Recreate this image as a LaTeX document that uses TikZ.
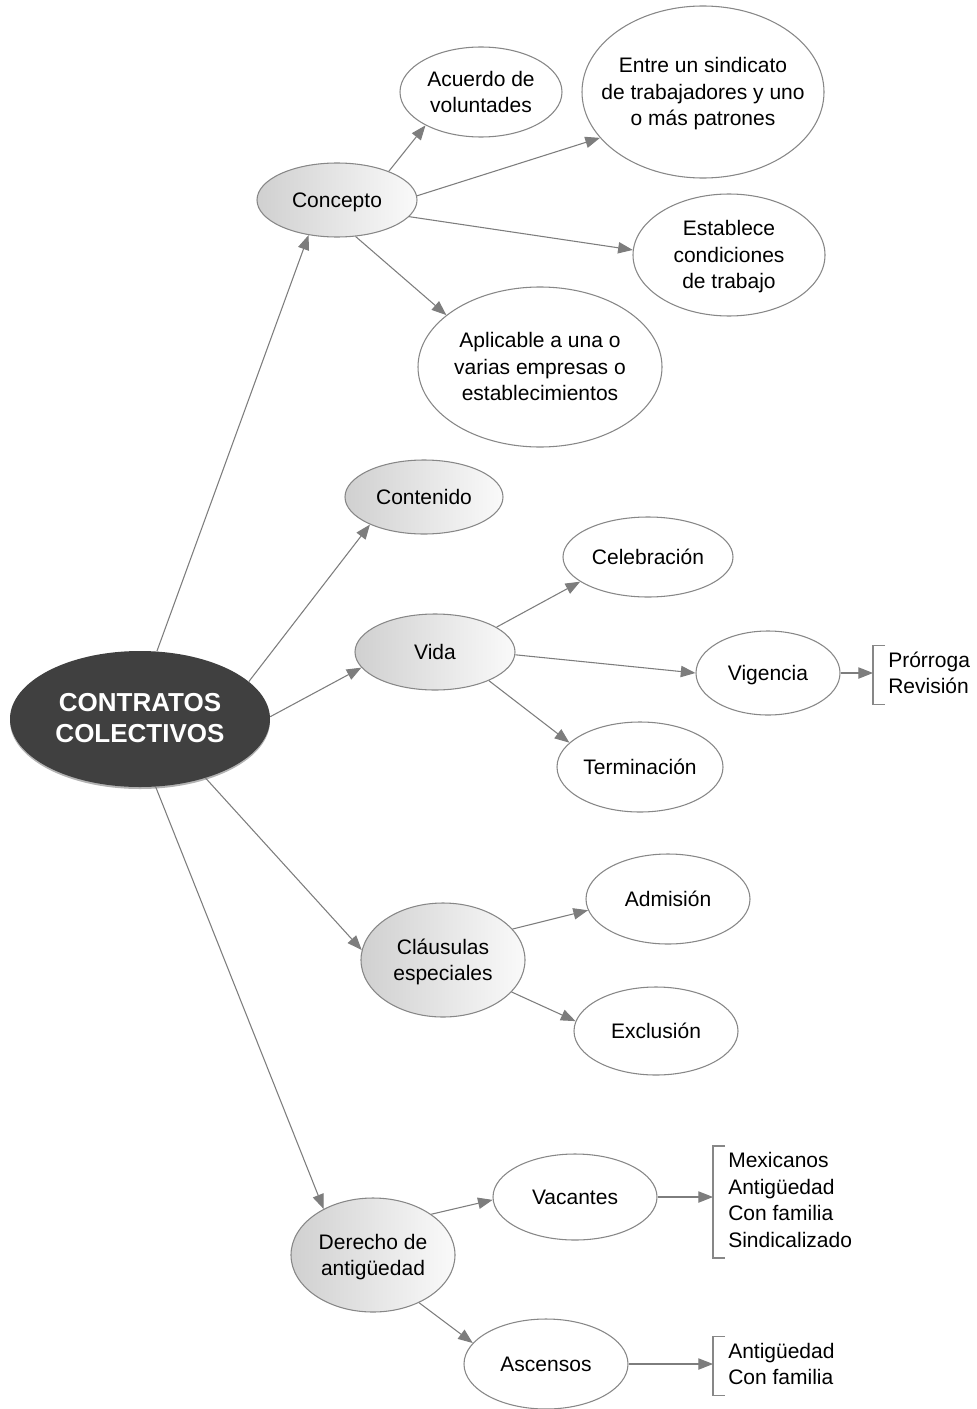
\documentclass[tikz,border=0pt]{standalone}
\usepackage{fontspec}
\setmainfont{Liberation Sans}
\usetikzlibrary{shapes.geometric,arrows.meta,shadows}
\definecolor{edgegray}{RGB}{125,125,125}
\definecolor{rimgray}{RGB}{135,135,135}
\definecolor{darkfill}{RGB}{64,64,64}
\definecolor{shadeL}{RGB}{208,208,208}
\definecolor{shadeR}{RGB}{250,250,250}
\newcommand\mytl[1]{\makebox[0pt]{\raisebox{-1.5pt}[\height][\depth]{\begin{tabular}{@{}c@{}}#1\end{tabular}}}}
\begin{document}
\begin{tikzpicture}[x=0.75pt,y=-0.75pt,
  base/.style={ellipse,inner sep=0pt,draw=rimgray,line width=0.8pt,
    font=\fontsize{15.75}{19.9}\selectfont},
  sz/.style 2 args={minimum width=#1*1.5pt,minimum height=#2*1.5pt},
  wnode/.style={base,fill=white},
  gnode/.style={base,left color=shadeL,right color=shadeR},
  cnode/.style={ellipse,inner sep=0pt,fill=darkfill,text=white,
    font=\fontsize{19.5}{23.25}\selectfont\bfseries,
    drop shadow={shadow xshift=0pt,shadow yshift=-1.5pt,opacity=0.3,fill=black}},
  arr/.style={draw=edgegray,line width=0.8pt,-{Triangle[length=11pt,width=8.5pt,fill=edgegray]}},
  lst/.style={anchor=west,inner xsep=11.25pt,inner ysep=2pt,
    font=\fontsize{15.75}{19.9}\selectfont},
  brk/.style={draw=rimgray,line width=0.8pt}]
\useasboundingbox (0,0) rectangle (977,1409);

\node[cnode,sz={130}{68}] (c) at (140,719) {\mytl{CONTRATOS\\COLECTIVOS}};

\node[gnode,sz={80}{37}] (con) at (337,200) {\mytl{Concepto}};
\node[wnode,sz={81}{45}] (acu) at (481,92) {\mytl{Acuerdo de\\voluntades}};
\node[wnode,sz={121}{86}] (ent) at (703,92) {\mytl{Entre un sindicato\\de trabajadores y uno\\o más patrones}};
\node[wnode,sz={96}{61}] (est) at (729,255) {\mytl{Establece\\condiciones\\de trabajo}};
\node[wnode,sz={122}{80}] (apl) at (540,367) {\mytl{Aplicable a una o\\varias empresas o\\establecimientos}};

\node[gnode,sz={79}{37}] (cnt) at (424,497) {\mytl{Contenido}};

\node[gnode,sz={80}{38}] (vid) at (435,652) {\mytl{Vida}};
\node[wnode,sz={85}{40}] (cel) at (648,557) {\mytl{Celebración}};
\node[wnode,sz={72}{42}] (vig) at (768,673) {\mytl{Vigencia}};
\node[wnode,sz={83}{45}] (ter) at (640,767) {\mytl{Terminación}};

\node[gnode,sz={82}{57}] (cla) at (443,960) {\mytl{Cláusulas\\especiales}};
\node[wnode,sz={82}{45}] (adm) at (668,899) {\mytl{Admisión}};
\node[wnode,sz={82}{44}] (exc) at (656,1031) {\mytl{Exclusión}};

\node[gnode,sz={82}{57}] (der) at (373,1255) {\mytl{Derecho de\\antigüedad}};
\node[wnode,sz={82}{43}] (vac) at (575,1197) {\mytl{Vacantes}};
\node[wnode,sz={82}{45}] (asc) at (546,1364) {\mytl{Ascensos}};

\node[lst] (l1) at (873,675) {\begin{tabular}{@{}l@{}}Prórroga\\Revisión\end{tabular}};
\node[lst] (l2) at (713,1202) {\begin{tabular}{@{}l@{}}Mexicanos\\Antigüedad\\Con familia\\Sindicalizado\end{tabular}};
\node[lst] (l3) at (713,1366) {\begin{tabular}{@{}l@{}}Antigüedad\\Con familia\end{tabular}};

\foreach \n in {l1,l2,l3}{
  \draw[brk] ([xshift=9pt]\n.north west) -- (\n.north west) -- (\n.south west) -- ([xshift=9pt]\n.south west);
}

\draw[arr] (c.76) -- (con.231);
\draw[arr] (c.19) -- (cnt.207);
\draw[arr] (c.1) -- (vid.192);
\draw[arr] (c.318) -- (cla.173);
\draw[arr] (c.283) -- (der.137);

\draw[arr] (con.29) -- (acu.211);
\draw[arr] (con.3) -- (ent.204);
\draw[arr] (con.-13) -- (est.177);
\draw[arr] (con.-63) -- (apl.151);

\draw[arr] (vid.22) -- (cel.200);
\draw[arr] (vid.-2) -- (vig.180);
\draw[arr] (vid.-28) -- (ter.161);
\draw[arr] (vig.east) -- (vig.east -| l1.west);

\draw[arr] (cla.24) -- (adm.188);
\draw[arr] (cla.-25) -- (exc.173);

\draw[arr] (der.35) -- (vac.182);
\draw[arr] (der.-46) -- (asc.164);
\draw[arr] (vac.east) -- (vac.east -| l2.west);
\draw[arr] (asc.east) -- (asc.east -| l3.west);
\end{tikzpicture}
\end{document}
